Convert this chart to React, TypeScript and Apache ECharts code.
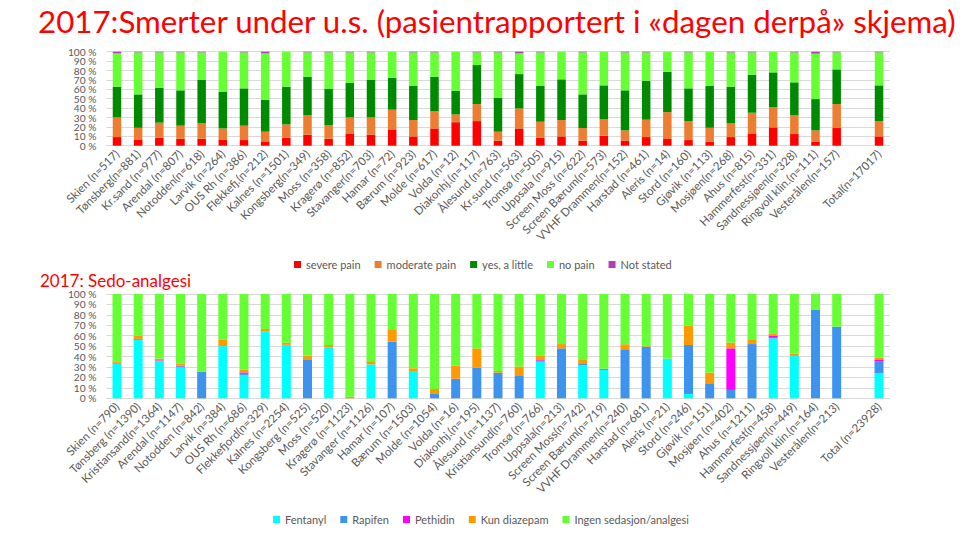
import React, { useEffect, useRef } from "react";
import * as echarts from "echarts";

const painCategories = [
  "Skien (n=517)", "Tønsberg(n=881)", "Kr.sand (n=977)", "Arendal (n=807)", "Notodden(n=618)",
  "Larvik (n=264)", "OUS Rh (n=386)", "Flekkefj.(n=212)", "Kalnes (n=1501)", "Kongsberg(n=349)",
  "Moss (n=358)", "Kragerø (n=852)", "Stavanger(n=703)", "Hamar (n=72)", "Bærum (n=923)",
  "Molde (n=617)", "Volda (n=12)", "Diakonhj.(n=117)", "Ålesund (n=763)", "Kr.sund (n=563)",
  "Tromsø (n=505)", "Uppsala (n=915)", "Screen Moss (n=622)", "Screen Bærum(n=573)", "VVHF Drammen(n=152)",
  "Harstad (n=461)", "Aleris (n=14)", "Stord (n=160)", "Gjøvik (n=113)", "Mosjøen(n=268)",
  "Ahus (n=815)", "Hammerfest(n=331)", "Sandnessjøen(n=328)", "Ringvoll klin.(n=111)", "Vesterålen(n=157)",
  "", "Total(n=17017)",
];
const severePain = [9.2, 6.7, 8.5, 7.4, 7.4, 6.7, 6, 4.6, 8.5, 11.7, 7.4, 13.1, 11.7, 17.4, 9.9, 18.4, 25, 26.2, 5.3, 18.4, 8.5, 9.9, 5.3, 10.6, 5.3, 9.2, 7.1, 6, 4.3, 9.2, 13.1, 19.5, 12.4, 4.3, 18.8, null, 9.9];
const moderatePain = [20.9, 12.4, 16, 13.9, 16.4, 11.7, 15.3, 10.3, 14.2, 20.6, 14.6, 17, 18.4, 20.9, 17.4, 18.5, 8.3, 18.1, 9.6, 21.3, 17, 17.4, 13.5, 17.8, 11, 18.5, 28.6, 20.2, 14.8, 14.6, 22, 21.3, 19.9, 12, 25.5, null, 16.3];
const yesLittle = [32.7, 35.5, 37.2, 37.6, 46.1, 38.7, 39.7, 34, 40.1, 41.1, 38.3, 36.6, 39.8, 34, 36.2, 36.5, 25, 41.5, 36.2, 36.5, 38, 43.3, 35.8, 35.8, 42.6, 41.4, 42.9, 34.8, 44.4, 39, 40.4, 37.2, 35.1, 33.3, 36.9, null, 38];
const noPain = [35.4, 44.7, 37.6, 40.4, 29.4, 42.9, 38.3, 49.3, 37.2, 25.9, 39, 32.6, 29.4, 27.7, 35.8, 25.9, 41.7, 13.5, 48.2, 22, 35.8, 29.4, 44.7, 35.8, 40.4, 30.2, 21.4, 38.3, 36.5, 36.5, 23.8, 22, 31.9, 48.3, 18.1, null, 35.1];
const notStated = [1.8, 0.7, 0.7, 0.7, 0.7, 0, 0.7, 1.8, 0, 0.7, 0.7, 0.7, 0.7, 0, 0.7, 0.7, 0, 0.7, 0.7, 1.8, 0.7, 0, 0.7, 0, 0.7, 0.7, 0, 0.7, 0, 0.7, 0.7, 0, 0.7, 2.1, 0.7, null, 0.7];

const sedoCategories = [
  "Skien (n=790)", "Tønsberg (n=1390)", "Kristiansand(n=1364)", "Arendal (n=1147)", "Notodden (n=842)",
  "Larvik (n=384)", "OUS Rh (n=686)", "Flekkefjord(n=329)", "Kalnes (n=2254)", "Kongsberg (n=525)",
  "Moss (n=520)", "Kragerø (n=1123)", "Stavanger (n=1126)", "Hamar (n=107)", "Bærum (n=1503)",
  "Molde (n=1054)", "Volda (n=16)", "Diakonhj.(n=195)", "Ålesund (n=1137)", "Kristiansund(n=760)",
  "Tromsø (n=766)", "Uppsala(n=213)", "Screen Moss(n=742)", "Screen Bærum(n=719)", "VVHF Drammen(n=240)",
  "Harstad (n=681)", "Aleris (n=21)", "Stord (n=246)", "Gjøvik (n=151)", "Mosjøen (n=402)",
  "Ahus (n=1211)", "Hammerfest(n=458)", "Sandnessjøen(n=449)", "Ringvoll klin.(n=164)", "Vesterålen(n=213)",
  "", "Total (n=23928)",
];
const fentanyl = [33.5, 56, 36, 29.7, 0, 50, 22.4, 64, 50.8, 0, 48.6, 0, 32.6, 0, 26.2, 0, 0, 0, 0, 0, 35.1, 0, 31.9, 27.2, 0, 0, 38.1, 4.2, 0, 0, 0, 57.5, 40.6, 0, 0, null, 24];
const rapifen = [0, 0.5, 0, 1, 25.6, 0, 2, 0, 0.5, 37.4, 0, 0, 0, 54.3, 0, 4.8, 18.8, 29.4, 24.6, 21.4, 1, 47.9, 1, 1.2, 47, 49.5, 0, 46.9, 14.4, 8, 52, 0.5, 0, 84.7, 68.7, null, 11.1];
const pethidin = [0.5, 0.5, 0.5, 0.5, 0, 0, 0.5, 0, 0, 0, 0, 0, 0, 0, 0, 0, 0, 0, 0, 0, 0.6, 0, 0, 0, 0, 0, 0, 0, 0, 39.9, 0, 2, 0, 0, 0, null, 1.6];
const kunDiazepam = [1.5, 3, 1.5, 2.3, 0, 6.5, 2.8, 2.5, 2, 3.5, 2.5, 1.6, 3, 11.2, 2.6, 4.1, 12.5, 18.5, 1.6, 9, 3.9, 4.1, 3.8, 0, 4.8, 0.5, 0, 18.5, 10.2, 5.5, 3.9, 1.7, 2.5, 0, 0, null, 2.6];
const ingen = [64.5, 40, 62, 66.5, 74.4, 43.5, 72.3, 33.5, 46.7, 59.1, 48.9, 98.4, 64.4, 34.5, 71.2, 91.1, 68.7, 52.1, 73.8, 69.6, 59.4, 48, 63.3, 71.6, 48.2, 50, 61.9, 30.4, 75.4, 46.6, 44.1, 38.3, 56.9, 15.3, 31.3, null, 60.7];

const yTicksEven = [0, 20, 40, 60, 80, 100];
const yTicksOdd = [10, 30, 50, 70, 90];

const FONT = "Lato, 'Open Sans', sans-serif";
const GRAY = "#595959";

export default function App() {
  const ref = useRef<HTMLDivElement>(null);
  useEffect(() => {
    document.body.style.margin = "0";
    const chart = echarts.init(ref.current!, null, { renderer: "svg" });
    const yAxisBase = (gi: number, labels: number[], withGrid: boolean) => ({
      type: "value",
      gridIndex: gi,
      position: "left",
      min: 0,
      max: 100,
      interval: 10,
      axisLine: { show: false },
      axisTick: { show: false },
      axisLabel: {
        customValues: labels,
        formatter: "{value} %",
        color: GRAY,
        fontSize: 10.2,
        fontFamily: FONT,
        margin: 10,
      },
      splitLine: { show: withGrid, lineStyle: { color: "#d9d9d9", width: 1 } },
    });
    const xAxisBase = (gi: number, data: string[]) => ({
      type: "category",
      gridIndex: gi,
      data,
      axisLine: { lineStyle: { color: "#d9d9d9" } },
      axisTick: { show: false },
      axisLabel: { rotate: 45, interval: 0, color: GRAY, fontSize: 11.5, fontFamily: FONT, margin: 6 },
    });
    const bar = (name: string, data: (number | null)[], color: string, ai: number, stack: string, w: number) => ({
      name,
      type: "bar",
      stack,
      xAxisIndex: ai,
      yAxisIndex: ai,
      data,
      barWidth: w,
      itemStyle: { color },
    });
    chart.setOption({
      animation: false,
      backgroundColor: "#ffffff",
      graphic: [
        {
          type: "text",
          left: 38,
          top: 5,
          style: {
            text: "2017:Smerter under u.s. (pasientrapportert i «dagen derpå» skjema)",
            fill: "#ff0000",
            font: `31.3px ${FONT}`,
          },
        },
        {
          type: "text",
          left: 40,
          top: 272,
          style: { text: "2017: Sedo-analgesi", fill: "#ff0000", font: `17px ${FONT}` },
        },
      ],
      grid: [
        { left: 106.4, top: 51.7, width: 783.2, height: 94 },
        { left: 106.4, top: 294, width: 783.2, height: 104.3 },
      ],
      legend: [
        {
          left: 289,
          top: 254,
          icon: "rect",
          itemWidth: 7,
          itemHeight: 7,
          itemGap: 14,
          textStyle: { color: GRAY, fontSize: 11, fontFamily: FONT },
          data: ["severe pain", "moderate pain", "yes, a little", "no pain", "Not stated"],
        },
        {
          left: 268,
          top: 509,
          icon: "rect",
          itemWidth: 7,
          itemHeight: 7,
          itemGap: 14,
          textStyle: { color: GRAY, fontSize: 11, fontFamily: FONT },
          data: ["Fentanyl", "Rapifen", "Pethidin", "Kun diazepam", "Ingen sedasjon/analgesi"],
        },
      ],
      xAxis: [xAxisBase(0, painCategories), xAxisBase(1, sedoCategories)],
      yAxis: [
        yAxisBase(0, yTicksEven, true),
        yAxisBase(1, yTicksEven, true),
        yAxisBase(0, yTicksOdd, false),
        yAxisBase(1, yTicksOdd, false),
      ],
      series: [
        bar("severe pain", severePain, "#ff0000", 0, "pain", 8.5),
        bar("moderate pain", moderatePain, "#ed7d31", 0, "pain", 8.5),
        bar("yes, a little", yesLittle, "#008a00", 0, "pain", 8.5),
        bar("no pain", noPain, "#66ff33", 0, "pain", 8.5),
        bar("Not stated", notStated, "#b040b8", 0, "pain", 8.5),
        bar("Fentanyl", fentanyl, "#00ffff", 1, "sedo", 9),
        bar("Rapifen", rapifen, "#3d94ee", 1, "sedo", 9),
        bar("Pethidin", pethidin, "#ff00ff", 1, "sedo", 9),
        bar("Kun diazepam", kunDiazepam, "#ff9900", 1, "sedo", 9),
        bar("Ingen sedasjon/analgesi", ingen, "#66ff33", 1, "sedo", 9),
      ],
    });
    return () => chart.dispose();
  }, []);
  return <div ref={ref} style={{ width: 977, height: 549 }} />;
}
